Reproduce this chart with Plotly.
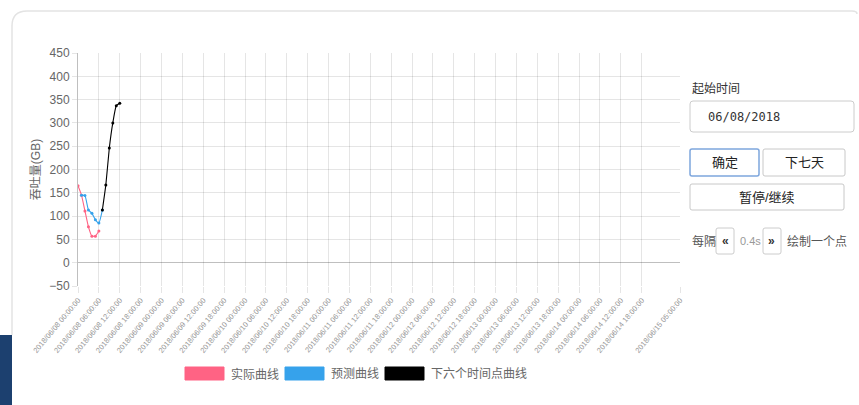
import plotly.graph_objects as go
import pandas as pd

# ---------------- data ----------------
actual_times = ["2018-06-08 00:00", "2018-06-08 01:00", "2018-06-08 02:00", "2018-06-08 03:00",
                "2018-06-08 04:00", "2018-06-08 05:00", "2018-06-08 06:00"]
actual_vals = [165, 145, 111, 77, 57, 57, 68]

pred_times = ["2018-06-08 01:00", "2018-06-08 02:00", "2018-06-08 03:00", "2018-06-08 04:00",
              "2018-06-08 05:00", "2018-06-08 06:00", "2018-06-08 07:00"]
pred_vals = [145, 144, 113, 106, 92, 85, 113]

next_times = ["2018-06-08 07:00", "2018-06-08 08:00", "2018-06-08 09:00", "2018-06-08 10:00",
              "2018-06-08 11:00", "2018-06-08 12:00"]
next_vals = [113, 167, 246, 300, 337, 342]

axis_start = "2018-06-08 00:00"
axis_end = "2018-06-15 05:00"
tick_times = list(pd.date_range("2018-06-08 00:00", "2018-06-14 18:00", freq="6h")) + [pd.Timestamp(axis_end)]
tick_labels = [t.strftime("%Y/%m/%d %H:%M:%S") for t in tick_times]

series_names = ["实际曲线", "预测曲线", "下六个时间点曲线"]
series_colors = ["rgb(255,99,132)", "rgb(54,162,235)", "rgb(0,0,0)"]

FONT = "Liberation Sans, Arial, Noto Sans CJK SC, sans-serif"

# ---------------- figure ----------------
fig = go.Figure()
for name, xs, ys, col in zip(series_names, [actual_times, pred_times, next_times],
                             [actual_vals, pred_vals, next_vals], series_colors):
    fig.add_trace(go.Scatter(
        x=xs, y=ys, name=name, mode="lines+markers",
        line=dict(color=col, width=1.1, shape="spline", smoothing=0.4),
        marker=dict(color=col, size=3),
        showlegend=False,
    ))

W, H = 859, 405
L, T, PW, PH = 78, 53, 602, 233


def px(x):
    return (x - L) / PW


def py(y):
    return (T + PH - y) / PH


def rrect(x0, y0, x1, y1, r, line, fill="white", width=1):
    p = (f"M {px(x0 + r)} {py(y0)} L {px(x1 - r)} {py(y0)} Q {px(x1)} {py(y0)} {px(x1)} {py(y0 + r)} "
         f"L {px(x1)} {py(y1 - r)} Q {px(x1)} {py(y1)} {px(x1 - r)} {py(y1)} "
         f"L {px(x0 + r)} {py(y1)} Q {px(x0)} {py(y1)} {px(x0)} {py(y1 - r)} "
         f"L {px(x0)} {py(y0 + r)} Q {px(x0)} {py(y0)} {px(x0 + r)} {py(y0)} Z")
    return dict(type="path", path=p, xref="paper", yref="paper",
                line=dict(color=line, width=width), fillcolor=fill, layer="above")


shapes = []
annots = []

# card frame
card = (f"M {px(12)} {py(335)} L {px(12)} {py(26)} Q {px(12)} {py(11)} {px(27)} {py(11)} "
        f"L {px(852)} {py(11)} Q {px(857)} {py(11)} {px(857)} {py(14)}")
shapes.append(dict(type="path", path=card, xref="paper", yref="paper",
                   line=dict(color="#e3e3e3", width=1.5), layer="below"))
shapes.append(dict(type="rect", xref="paper", yref="paper", x0=px(0), x1=px(12), y0=py(405), y1=py(335),
                   fillcolor="#1c406f", line=dict(width=0), layer="below"))

# legend
leg_x = [185, 285, 385]
for lx, name, col in zip(leg_x, series_names, series_colors):
    shapes.append(dict(type="rect", xref="paper", yref="paper", x0=px(lx), x1=px(lx + 39),
                       y0=py(380), y1=py(367), fillcolor=col, line=dict(color=col, width=1)))
    annots.append(dict(x=px(lx + 44), y=py(374), xref="paper", yref="paper", text=name, showarrow=False,
                       xanchor="left", yanchor="middle", font=dict(size=12, color="#666", family=FONT)))

# right-side controls
annots.append(dict(x=px(690), y=py(89), xref="paper", yref="paper", text="起始时间", showarrow=False,
                   xanchor="left", yanchor="middle", font=dict(size=12, color="#333", family=FONT)))
shapes.append(rrect(690, 101, 854, 132, 3, "#cccccc"))
annots.append(dict(x=px(706), y=py(117), xref="paper", yref="paper", text="06/08/2018", showarrow=False,
                   xanchor="left", yanchor="middle",
                   font=dict(size=12, color="#333", family="DejaVu Sans Mono, monospace")))
shapes.append(rrect(690, 149, 759, 176, 2, "#7ea6dd", width=1.5))
annots.append(dict(x=px(724.5), y=py(162.5), xref="paper", yref="paper", text="确定", showarrow=False,
                   xanchor="center", yanchor="middle", font=dict(size=13, color="#222", family=FONT)))
shapes.append(rrect(763, 149, 845, 176, 2, "#c8c8c8"))
annots.append(dict(x=px(804), y=py(162.5), xref="paper", yref="paper", text="下七天", showarrow=False,
                   xanchor="center", yanchor="middle", font=dict(size=13, color="#222", family=FONT)))
shapes.append(rrect(690, 184, 844, 210, 2, "#c8c8c8"))
annots.append(dict(x=px(767), y=py(197), xref="paper", yref="paper", text="暂停/继续", showarrow=False,
                   xanchor="center", yanchor="middle", font=dict(size=13, color="#222", family=FONT)))

annots.append(dict(x=px(690), y=py(241), xref="paper", yref="paper", text="每隔", showarrow=False,
                   xanchor="left", yanchor="middle", font=dict(size=12, color="#555", family=FONT)))
shapes.append(rrect(716, 228, 734, 254, 2, "#cccccc"))
annots.append(dict(x=px(725), y=py(241), xref="paper", yref="paper", text="<b>«</b>", showarrow=False,
                   xanchor="center", yanchor="middle", font=dict(size=12, color="#333", family=FONT)))
annots.append(dict(x=px(738), y=py(241), xref="paper", yref="paper", text="0.4s", showarrow=False,
                   xanchor="left", yanchor="middle", font=dict(size=11, color="#999", family=FONT)))
shapes.append(rrect(763, 228, 781, 254, 2, "#cccccc"))
annots.append(dict(x=px(772), y=py(241), xref="paper", yref="paper", text="<b>»</b>", showarrow=False,
                   xanchor="center", yanchor="middle", font=dict(size=12, color="#333", family=FONT)))
annots.append(dict(x=px(785), y=py(241), xref="paper", yref="paper", text="绘制一个点", showarrow=False,
                   xanchor="left", yanchor="middle", font=dict(size=12, color="#555", family=FONT)))

fig.update_layout(
    width=W, height=H,
    margin=dict(l=L, r=W - L - PW, t=T, b=H - T - PH),
    paper_bgcolor="white", plot_bgcolor="white",
    font=dict(family=FONT, color="#666", size=12),
    showlegend=False,
    shapes=shapes, annotations=annots,
)
fig.update_xaxes(
    type="date", range=[axis_start, axis_end],
    tickvals=tick_times, ticktext=tick_labels, tickangle=-50,
    tickfont=dict(size=7.5, color="#999"),
    showgrid=True, gridcolor="rgba(0,0,0,0.1)", gridwidth=1,
    ticks="outside", ticklen=6, tickcolor="rgba(0,0,0,0.1)",
    showline=False, zeroline=False,
)
fig.update_yaxes(
    range=[-50, 450], dtick=50, tick0=0,
    tickfont=dict(size=12, color="#666"),
    showgrid=True, gridcolor="rgba(0,0,0,0.1)", gridwidth=1,
    zeroline=True, zerolinecolor="rgba(0,0,0,0.25)", zerolinewidth=1,
    showline=True, linecolor="rgba(0,0,0,0.25)", linewidth=1,
    ticks="outside", ticklen=5, tickcolor="rgba(0,0,0,0.1)",
    title=dict(text="吞吐量(GB)", font=dict(size=12, color="#666"), standoff=6),
)

fig.write_html("out.html", config={"displayModeBar": False},
               post_script="document.body.style.margin='0px';document.body.style.overflow='hidden';")
